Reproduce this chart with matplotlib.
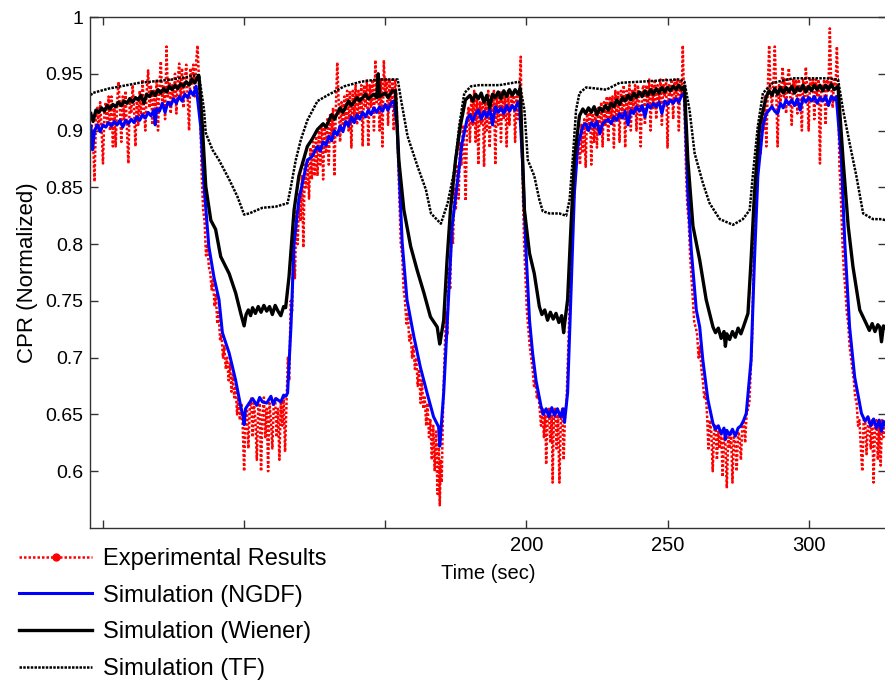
import numpy as np
import matplotlib
matplotlib.use("Agg")
import matplotlib.pyplot as plt
from matplotlib.lines import Line2D

plt.rcParams['font.family'] = ['Liberation Sans', 'DejaVu Sans']

# (time [s], CPR normalized)
experimental = [
    # first high level
    (46, 0.905), (46.5, 0.89), (47, 0.855), (47.5, 0.91), (48, 0.92), (48.5, 0.90), (49, 0.925), (49.5, 0.90),
    (50, 0.871), (50.5, 0.915), (51, 0.925), (51.5, 0.905), (52, 0.93), (52.5, 0.90), (53, 0.93), (53.5, 0.886),
    (54, 0.92), (54.5, 0.886), (55, 0.925), (55.5, 0.943), (56, 0.92), (56.5, 0.89), (57, 0.93), (57.5, 0.91),
    (58, 0.935), (58.5, 0.90), (59, 0.871), (59.5, 0.93), (60, 0.915), (60.5, 0.94), (61, 0.92), (61.5, 0.886),
    (62, 0.93), (62.5, 0.905), (63, 0.935), (63.5, 0.91), (64, 0.945), (64.5, 0.92), (65, 0.90), (65.5, 0.935),
    (66, 0.953), (66.5, 0.92), (67, 0.94), (67.5, 0.905), (68, 0.935), (68.5, 0.915), (69, 0.945), (69.5, 0.90),
    (70, 0.94), (70.5, 0.961), (71, 0.925), (71.5, 0.94), (72, 0.91), (72.5, 0.974), (73, 0.93), (73.5, 0.945),
    (74, 0.915), (74.5, 0.94), (75, 0.925), (75.5, 0.95), (76, 0.915), (76.5, 0.945), (77, 0.959), (77.5, 0.93),
    (78, 0.955), (78.5, 0.92), (79, 0.945), (79.5, 0.958), (80, 0.93), (80.5, 0.90), (81, 0.955), (81.5, 0.94),
    (82, 0.958), (82.5, 0.93), (83, 0.96), (83.5, 0.975), (84, 0.945),
    # first dip
    (84.3, 0.92), (84.7, 0.89), (85, 0.86), (85.5, 0.83), (86, 0.82), (86.5, 0.79), (87, 0.80), (87.5, 0.78),
    (88, 0.775), (88.5, 0.76), (89, 0.77), (89.5, 0.745), (90, 0.755), (90.5, 0.73), (91, 0.74), (91.5, 0.715),
    (92, 0.72), (92.5, 0.70), (93, 0.71), (93.5, 0.69), (94, 0.70), (94.5, 0.68), (95, 0.695), (95.5, 0.67),
    (96, 0.685), (96.5, 0.665), (97, 0.675), (97.5, 0.65), (98, 0.665), (98.5, 0.645), (99, 0.66), (99.5, 0.64),
    (100, 0.60), (100.5, 0.65), (101, 0.655), (101.5, 0.62), (102, 0.655), (102.5, 0.665), (103, 0.63),
    (103.5, 0.66), (104, 0.645), (104.5, 0.61), (105, 0.655), (105.5, 0.66), (106, 0.60), (106.5, 0.65),
    (107, 0.665), (107.5, 0.63), (108, 0.655), (108.5, 0.60), (109, 0.66), (109.5, 0.645), (110, 0.62),
    (110.5, 0.66), (111, 0.665), (111.5, 0.63), (112, 0.655), (112.5, 0.61), (113, 0.66), (113.5, 0.64),
    (114, 0.665), (114.5, 0.617), (115, 0.66),
    # second high level
    (115.5, 0.70), (116, 0.68), (116.5, 0.75), (117, 0.74), (117.5, 0.80), (118, 0.77), (118.5, 0.83),
    (119, 0.80), (119.5, 0.845), (120, 0.82), (120.5, 0.86), (121, 0.797), (121.5, 0.87), (122, 0.85),
    (122.5, 0.875), (123, 0.84), (123.5, 0.885), (124, 0.857), (124.5, 0.89), (125, 0.86), (125.5, 0.895),
    (126, 0.86), (126.5, 0.90), (127, 0.87), (127.5, 0.905), (128, 0.857), (128.5, 0.905), (129, 0.88),
    (129.5, 0.91), (130, 0.87), (130.5, 0.915), (131, 0.89), (131.5, 0.92), (132, 0.86), (132.5, 0.92),
    (133, 0.96), (133.5, 0.925), (134, 0.89), (134.5, 0.925), (135, 0.90), (135.5, 0.93), (136, 0.905),
    (136.5, 0.935), (137, 0.90), (137.5, 0.935), (138, 0.885), (138.5, 0.935), (139, 0.91), (139.5, 0.94),
    (140, 0.905), (140.5, 0.935), (141, 0.91), (141.5, 0.94), (142, 0.886), (142.5, 0.94), (143, 0.92),
    (143.5, 0.945), (144, 0.886), (144.5, 0.94), (145, 0.92), (145.5, 0.945), (146, 0.90), (146.5, 0.962),
    (147, 0.925), (147.5, 0.94), (148, 0.90), (148.5, 0.945), (149, 0.886), (149.5, 0.962), (150, 0.93),
    (150.5, 0.945), (151, 0.905), (151.5, 0.945), (152, 0.92), (152.5, 0.945), (153, 0.90), (153.5, 0.945),
    (154, 0.93),
    # second dip
    (154.5, 0.88), (155, 0.84), (155.5, 0.80), (156, 0.79), (156.5, 0.76), (157, 0.75), (157.5, 0.73),
    (158, 0.74), (158.5, 0.715), (159, 0.72), (159.5, 0.70), (160, 0.71), (160.5, 0.69), (161, 0.70),
    (161.5, 0.675), (162, 0.69), (162.5, 0.66), (163, 0.68), (163.5, 0.655), (164, 0.665), (164.5, 0.64),
    (165, 0.66), (165.5, 0.63), (166, 0.645), (166.5, 0.61), (167, 0.64), (167.5, 0.60), (168, 0.635),
    (168.5, 0.58), (169, 0.625), (169.3, 0.57), (169.7, 0.61), (170, 0.59), (170.5, 0.66),
    # third high level
    (171, 0.70), (171.5, 0.74), (172, 0.72), (172.5, 0.78), (173, 0.76), (173.5, 0.82), (174, 0.80),
    (174.5, 0.85), (175, 0.83), (175.5, 0.87), (176, 0.84), (176.5, 0.89), (177, 0.87), (177.5, 0.905),
    (178, 0.88), (178.5, 0.838), (179, 0.91), (179.5, 0.92), (180, 0.89), (180.5, 0.93), (181, 0.905),
    (181.5, 0.935), (182, 0.89), (182.5, 0.93), (183, 0.87), (183.5, 0.925), (184, 0.905), (184.5, 0.93),
    (185, 0.868), (185.5, 0.925), (186, 0.90), (186.5, 0.935), (187, 0.885), (187.5, 0.93), (188, 0.91),
    (188.5, 0.935), (189, 0.87), (189.5, 0.93), (190, 0.905), (190.5, 0.935), (191, 0.89), (191.5, 0.935),
    (192, 0.91), (192.5, 0.93), (193, 0.886), (193.5, 0.935), (194, 0.905), (194.5, 0.93), (195, 0.92),
    (195.5, 0.935), (196, 0.89), (196.5, 0.93), (197, 0.91), (197.5, 0.93), (198, 0.965), (198.3, 0.90),
    # third dip
    (198.7, 0.85), (199.2, 0.80), (199.7, 0.77), (200.2, 0.74), (200.7, 0.725), (201.2, 0.71), (201.7, 0.70),
    (202.2, 0.69), (202.7, 0.675), (203.2, 0.68), (203.7, 0.665), (204.2, 0.67), (204.7, 0.655), (205.2, 0.64),
    (205.7, 0.655), (206.2, 0.63), (206.7, 0.65), (207, 0.606), (207.5, 0.645), (208, 0.655), (208.5, 0.625),
    (209, 0.65), (209.3, 0.59), (209.7, 0.645), (210.2, 0.655), (210.7, 0.62), (211.2, 0.65), (211.7, 0.59),
    (212.2, 0.645), (212.7, 0.655), (213.2, 0.61), (213.7, 0.65), (214.2, 0.66), (214.6, 0.69),
    # fourth high level
    (215, 0.72), (215.5, 0.76), (216, 0.80), (216.5, 0.83), (217, 0.845), (217.5, 0.87), (218, 0.88),
    (218.5, 0.89), (219, 0.87), (219.5, 0.905), (220, 0.88), (220.5, 0.91), (221, 0.868), (221.5, 0.915),
    (222, 0.90), (222.5, 0.92), (223, 0.87), (223.5, 0.915), (224, 0.89), (224.5, 0.92), (225, 0.885),
    (225.5, 0.92), (226, 0.90), (226.5, 0.925), (227, 0.886), (227.5, 0.925), (228, 0.905), (228.5, 0.93),
    (229, 0.89), (229.5, 0.93), (230, 0.91), (230.5, 0.93), (231, 0.885), (231.5, 0.935), (232, 0.91),
    (232.5, 0.935), (233, 0.89), (233.5, 0.935), (234, 0.915), (234.5, 0.94), (235, 0.885), (235.5, 0.935),
    (236, 0.91), (236.5, 0.94), (237, 0.90), (237.5, 0.935), (238, 0.915), (238.5, 0.94), (239, 0.90),
    (239.5, 0.94), (240, 0.92), (240.5, 0.886), (241, 0.935), (241.5, 0.94), (242, 0.905), (242.5, 0.94),
    (243, 0.92), (243.5, 0.945), (244, 0.90), (244.5, 0.94), (245, 0.92), (245.5, 0.945), (246, 0.91),
    (246.5, 0.94), (247, 0.925), (247.5, 0.945), (248, 0.905), (248.5, 0.94), (249, 0.93), (249.5, 0.945),
    (250, 0.885), (250.5, 0.94), (251, 0.93), (251.5, 0.945), (252, 0.91), (252.5, 0.945), (253, 0.93),
    (253.5, 0.945), (254, 0.90), (254.5, 0.945), (255, 0.93), (255.4, 0.975), (255.8, 0.935),
    # fourth dip
    (256.2, 0.90), (256.6, 0.86), (257, 0.834), (257.5, 0.82), (258, 0.79), (258.5, 0.77), (259, 0.75),
    (259.5, 0.73), (260, 0.727), (260.5, 0.72), (261, 0.70), (261.5, 0.71), (262, 0.69), (262.5, 0.68),
    (263, 0.665), (263.5, 0.67), (264, 0.65), (264.5, 0.62), (265, 0.645), (265.5, 0.635), (266, 0.60),
    (266.5, 0.635), (267, 0.64), (267.5, 0.61), (268, 0.635), (268.5, 0.62), (269, 0.635), (269.5, 0.595),
    (270, 0.63), (270.5, 0.625), (271, 0.585), (271.5, 0.63), (272, 0.62), (272.5, 0.635), (273, 0.59),
    (273.5, 0.63), (274, 0.625), (274.5, 0.60), (275, 0.635), (275.5, 0.63), (276, 0.61), (276.5, 0.64),
    (277, 0.645), (277.5, 0.625), (278, 0.65), (278.5, 0.655), (279, 0.66), (279.5, 0.69),
    # fifth high level
    (280, 0.72), (280.5, 0.78), (281, 0.83), (281.5, 0.85), (282, 0.87), (282.5, 0.89), (283, 0.88),
    (283.5, 0.91), (284, 0.90), (284.5, 0.93), (285, 0.886), (285.5, 0.935), (286, 0.975), (286.5, 0.935),
    (287, 0.92), (287.5, 0.94), (288, 0.974), (288.5, 0.935), (289, 0.886), (289.5, 0.94), (290, 0.925),
    (290.5, 0.945), (290.8, 0.956), (291.2, 0.93), (291.5, 0.945), (292, 0.915), (292.5, 0.945), (293, 0.955),
    (293.5, 0.93), (294, 0.905), (294.5, 0.945), (295, 0.935), (295.5, 0.945), (296, 0.915), (296.5, 0.945),
    (297, 0.935), (297.6, 0.90), (298, 0.945), (298.5, 0.93), (299, 0.956), (299.5, 0.935), (300, 0.90),
    (300.5, 0.945), (301, 0.935), (301.5, 0.945), (302, 0.91), (302.5, 0.945), (303, 0.93), (303.5, 0.945),
    (304, 0.871), (304.5, 0.94), (305, 0.935), (305.5, 0.945), (306, 0.905), (306.5, 0.945), (307, 0.935),
    (307.5, 0.99), (308, 0.94), (308.5, 0.92), (309, 0.945), (309.5, 0.935), (310, 0.974), (310.4, 0.94),
    (310.9, 0.869),
    # last dip
    (311.3, 0.85), (311.7, 0.82), (312, 0.80), (312.5, 0.775), (313, 0.76), (313.5, 0.74), (314, 0.73),
    (314.5, 0.71), (315, 0.70), (315.5, 0.69), (316, 0.68), (316.5, 0.665), (317, 0.66), (317.5, 0.64),
    (318, 0.645), (318.5, 0.62), (319, 0.60), (319.5, 0.645), (320, 0.645), (320.5, 0.615), (321, 0.64),
    (321.5, 0.645), (322, 0.62), (322.5, 0.645), (323, 0.59), (323.5, 0.64), (324, 0.645), (324.5, 0.61),
    (325, 0.64), (325.5, 0.605), (326, 0.645), (326.5, 0.63), (327, 0.64),
]

ngdf = [
    (45.7, 0.904), (46.3, 0.883), (47, 0.900), (48, 0.905), (49, 0.899), (50, 0.905), (51, 0.903), (52, 0.907),
    (53, 0.904), (54, 0.908), (55, 0.905), (56, 0.909), (57, 0.903), (58, 0.909), (59, 0.906), (60, 0.910),
    (61, 0.907), (62, 0.912), (63, 0.909), (64, 0.914), (65, 0.911), (66, 0.916), (67, 0.913), (68, 0.918),
    (68.5, 0.905), (69, 0.919), (70, 0.917), (71, 0.924), (72, 0.916), (73, 0.925), (74, 0.922), (75, 0.928),
    (76, 0.924), (77, 0.930), (78, 0.926), (79, 0.932), (80, 0.929), (81, 0.935), (82, 0.931), (83, 0.939),
    (84.6, 0.904), (85.8, 0.851), (87.5, 0.798), (89.3, 0.771), (91.1, 0.751), (92.3, 0.722), (94.7, 0.704),
    (97, 0.680), (98.8, 0.657), (99.5, 0.650), (100, 0.641), (100.5, 0.655), (101.8, 0.660), (103, 0.664),
    (104.5, 0.658), (105.5, 0.665), (106.5, 0.661), (108, 0.660), (109.5, 0.666), (110.3, 0.659),
    (111.3, 0.664), (113, 0.661), (114, 0.667), (114.8, 0.666), (115.4, 0.669), (116.6, 0.728),
    (117.7, 0.801), (119.4, 0.839), (122.4, 0.874), (124, 0.877), (126, 0.886), (127, 0.882), (128, 0.890),
    (129, 0.887), (130, 0.895), (131, 0.891), (132, 0.900), (133, 0.896), (134, 0.904), (135, 0.899),
    (136, 0.908), (137, 0.904), (138, 0.912), (139, 0.907), (140, 0.914), (141, 0.910), (142, 0.916),
    (143, 0.912), (144, 0.918), (145, 0.914), (146, 0.920), (147, 0.916), (148, 0.921), (149, 0.917),
    (150, 0.923), (151, 0.918), (152, 0.924), (153, 0.926),
    (154.2, 0.904), (156, 0.801), (157.7, 0.751), (160.1, 0.719), (162.4, 0.692), (164.8, 0.669),
    (167.1, 0.648), (168.9, 0.639), (169.3, 0.622), (169.7, 0.635), (170.7, 0.669), (171.9, 0.728),
    (173.7, 0.816), (175.4, 0.851), (177.2, 0.889), (179, 0.910), (180, 0.914), (181, 0.908), (182, 0.915),
    (183, 0.918), (184, 0.910), (185, 0.917), (186, 0.912), (187, 0.919), (188, 0.905), (189, 0.921),
    (190, 0.916), (191, 0.920), (192, 0.915), (193, 0.922), (194, 0.917), (195, 0.922), (196, 0.918),
    (197, 0.925), (197.5, 0.925),
    (198.6, 0.874), (199.9, 0.792), (201.1, 0.733), (202.2, 0.704), (203.4, 0.680), (205.2, 0.657),
    (206, 0.650), (207, 0.655), (208, 0.648), (209, 0.656), (210, 0.649), (211, 0.655), (212, 0.648),
    (213, 0.655), (213.5, 0.643), (214, 0.655), (214.6, 0.669), (215.8, 0.757), (217, 0.845), (218.2, 0.886),
    (220, 0.904), (221, 0.906), (222, 0.900), (223, 0.907), (224, 0.903), (225, 0.908), (226, 0.897),
    (227, 0.906), (228, 0.908), (229, 0.910), (230, 0.906), (231, 0.912), (232, 0.909), (233, 0.915),
    (234, 0.911), (235, 0.917), (236, 0.905), (237, 0.918), (238, 0.915), (239, 0.921), (240, 0.917),
    (241, 0.922), (242, 0.912), (243, 0.923), (244, 0.920), (245, 0.924), (246, 0.921), (247, 0.925),
    (248, 0.915), (249, 0.926), (250, 0.923), (251, 0.927), (252, 0.924), (253, 0.928), (254, 0.925),
    (255, 0.931), (256, 0.933),
    (257.2, 0.845), (258.4, 0.795), (260.2, 0.742), (261.4, 0.727), (262.5, 0.698), (264.3, 0.663),
    (266.1, 0.642), (267, 0.637), (268, 0.640), (269, 0.633), (270, 0.638), (270.5, 0.628), (271, 0.636),
    (272, 0.632), (273, 0.637), (274, 0.631), (275, 0.638), (276, 0.640), (277, 0.645), (277.9, 0.651),
    (279.6, 0.698), (280.8, 0.786), (282, 0.860), (283.8, 0.904), (285, 0.915), (286, 0.918), (287, 0.921),
    (288, 0.917), (289, 0.915), (290, 0.924), (291, 0.920), (292, 0.927), (293, 0.923), (294, 0.927),
    (295, 0.922), (296, 0.928), (297, 0.918), (298, 0.929), (299, 0.925), (300, 0.929), (301, 0.926),
    (302, 0.930), (303, 0.924), (304, 0.929), (305, 0.926), (306, 0.930), (307, 0.922), (308, 0.930),
    (309, 0.927), (309.8, 0.930),
    (311.6, 0.874), (312.8, 0.801), (314.5, 0.727), (316.3, 0.683), (318.7, 0.651), (320, 0.644),
    (321, 0.648), (322, 0.640), (323, 0.646), (324, 0.638), (325, 0.645), (325.8, 0.635), (326.5, 0.644),
    (327.3, 0.640),
]

wiener = [
    (45.7, 0.915), (46.5, 0.908), (47.5, 0.918), (48.5, 0.916), (49.5, 0.920), (50.5, 0.917), (51.5, 0.922),
    (52.5, 0.919), (53.5, 0.923), (54.5, 0.921), (55.5, 0.925), (56.5, 0.922), (57.5, 0.926), (58.5, 0.924),
    (59.5, 0.928), (60.5, 0.925), (61.5, 0.929), (62.5, 0.927), (63.5, 0.931), (64.5, 0.924), (65.5, 0.932),
    (66.5, 0.930), (67.5, 0.934), (68.5, 0.931), (69.5, 0.936), (70.5, 0.933), (71.5, 0.937), (72.5, 0.934),
    (73.5, 0.939), (74.5, 0.936), (75.5, 0.940), (76.5, 0.937), (77.5, 0.941), (78.5, 0.939), (79.5, 0.943),
    (80.5, 0.940), (81.5, 0.945), (82.5, 0.942), (83.5, 0.947), (84, 0.948),
    (85.2, 0.904), (86.4, 0.851), (88.2, 0.821), (89.9, 0.813), (91.7, 0.789), (94.7, 0.774), (97, 0.757),
    (98.8, 0.739), (100, 0.728), (100.7, 0.738), (101.5, 0.742), (102.3, 0.737), (103, 0.744), (104, 0.739),
    (105, 0.745), (106, 0.740), (107, 0.746), (108, 0.741), (109, 0.745), (110, 0.738), (111, 0.746),
    (112, 0.741), (113, 0.737), (114, 0.745), (114.7, 0.744), (115.9, 0.771), (117.7, 0.830), (119.4, 0.860),
    (122.4, 0.886), (124, 0.892), (126, 0.901), (128, 0.906), (129, 0.903), (131, 0.914), (132, 0.910),
    (134, 0.920), (135, 0.916), (137, 0.926), (138, 0.922), (140, 0.929), (141, 0.926), (143, 0.932),
    (144, 0.928), (146, 0.932), (147, 0.929), (147.5, 0.950), (148, 0.930), (150, 0.933), (151, 0.929),
    (152.5, 0.935), (153.6, 0.935),
    (154.8, 0.874), (156.6, 0.830), (159, 0.798), (161.3, 0.777), (163.7, 0.757), (166, 0.736), (168.4, 0.727),
    (169.3, 0.712), (169.6, 0.716), (170.7, 0.733), (171.9, 0.786), (173.1, 0.830), (174.9, 0.874),
    (176.6, 0.904), (178.4, 0.927), (180, 0.931), (181, 0.926), (182, 0.932), (183, 0.928), (184, 0.933),
    (185, 0.925), (186, 0.931), (187, 0.920), (188, 0.932), (189, 0.929), (190, 0.934), (191, 0.928),
    (192, 0.935), (193, 0.930), (194, 0.936), (195, 0.931), (196, 0.936), (197, 0.932), (197.8, 0.937),
    (199.3, 0.830), (201.1, 0.792), (202.8, 0.774), (204.6, 0.745), (205.5, 0.738), (206.5, 0.742),
    (207.5, 0.733), (208.5, 0.740), (209.5, 0.734), (210.5, 0.739), (211.5, 0.731), (212.5, 0.737),
    (213.2, 0.722), (213.5, 0.729), (214.6, 0.751), (215.8, 0.816), (217, 0.874), (218.8, 0.913),
    (220, 0.919), (221, 0.915), (222, 0.920), (223, 0.916), (224, 0.921), (225, 0.914), (226, 0.920),
    (227, 0.917), (228, 0.922), (229, 0.918), (230, 0.924), (231, 0.921), (232, 0.927), (233, 0.923),
    (234, 0.929), (235, 0.926), (236, 0.931), (237, 0.927), (238, 0.933), (239, 0.929), (240, 0.934),
    (241, 0.930), (242, 0.935), (243, 0.931), (244, 0.936), (245, 0.932), (246, 0.937), (247, 0.933),
    (248, 0.938), (249, 0.934), (250, 0.938), (251, 0.935), (252, 0.939), (253, 0.936), (254, 0.940),
    (255, 0.936), (256, 0.939),
    (257.2, 0.874), (259, 0.816), (261.4, 0.786), (263.7, 0.751), (266.1, 0.727), (267, 0.722), (268, 0.726),
    (269, 0.717), (270, 0.723), (270.5, 0.710), (271, 0.721), (272, 0.716), (273, 0.723), (274, 0.718),
    (275, 0.726), (276, 0.721), (277, 0.728), (278.5, 0.739), (279.6, 0.786), (280.8, 0.845), (282.6, 0.904),
    (285, 0.930), (286, 0.935), (287, 0.931), (288, 0.937), (289, 0.932), (290, 0.938), (291, 0.933),
    (292, 0.938), (293, 0.934), (294, 0.939), (295, 0.933), (296, 0.938), (297, 0.935), (298, 0.940),
    (299, 0.934), (300, 0.939), (301, 0.935), (302, 0.940), (303, 0.936), (304, 0.940), (305, 0.935),
    (306, 0.940), (307, 0.936), (308, 0.941), (309, 0.936), (310.4, 0.939),
    (312.2, 0.874), (314, 0.816), (315.7, 0.780), (318.1, 0.742), (320.4, 0.730), (321.5, 0.724),
    (322.5, 0.730), (323.5, 0.723), (324.5, 0.729), (325.2, 0.727), (325.8, 0.714), (326.5, 0.728),
    (327.3, 0.726),
]

tf = [
    (45.7, 0.931), (46.2, 0.933), (52.1, 0.937), (62.8, 0.942), (74.6, 0.945), (84.0, 0.949),
    (85.8, 0.918), (86.4, 0.898), (88.8, 0.883), (91.1, 0.874), (94.7, 0.857), (97.6, 0.842),
    (100, 0.826), (101.8, 0.827), (106.5, 0.832), (111.2, 0.833), (115.4, 0.836), (116.6, 0.851),
    (118.3, 0.874), (120.1, 0.892), (122.4, 0.909), (126, 0.926), (129.5, 0.931), (135.5, 0.939),
    (141.4, 0.943), (147.3, 0.945), (154.4, 0.945), (155.6, 0.927), (157.9, 0.895), (161.5, 0.868),
    (164.4, 0.848), (166.2, 0.827), (169.7, 0.818), (172.1, 0.836), (174.5, 0.865), (176.2, 0.904),
    (178, 0.933), (180.4, 0.939), (183.3, 0.940), (190.4, 0.940), (197.5, 0.943), (199.3, 0.918),
    (200.5, 0.874), (202.8, 0.860), (204.6, 0.839), (205.8, 0.829), (208.2, 0.827), (211.7, 0.827),
    (214.1, 0.825), (215.3, 0.839), (216.4, 0.874), (217.6, 0.918), (218.8, 0.933), (221.2, 0.938),
    (228.3, 0.936), (233, 0.942), (240.1, 0.943), (247.2, 0.944), (254.3, 0.945), (256, 0.943),
    (257.8, 0.918), (259.6, 0.880), (262.5, 0.854), (264.9, 0.836), (268.5, 0.822), (273.2, 0.817),
    (276.7, 0.822), (279.1, 0.830), (280.2, 0.860), (282, 0.904), (283.8, 0.933), (287.3, 0.942),
    (294.4, 0.946), (306.3, 0.946), (310.4, 0.945), (312.2, 0.918), (314.5, 0.889), (316.9, 0.860),
    (319.3, 0.827), (322.8, 0.822), (325.8, 0.822), (327.3, 0.821),
]

labels = ["Experimental Results", "Simulation (NGDF)", "Simulation (Wiener)", "Simulation (TF)"]
ytick_vals = [0.6, 0.65, 0.7, 0.75, 0.8, 0.85, 0.9, 0.95, 1.0]
ytick_text = ["0.6", "0.65", "0.7", "0.75", "0.8", "0.85", "0.9", "0.95", "1"]
xtick_vals = [50, 100, 150, 200, 250, 300]
xtick_text = ["", "", "", "200", "250", "300"]

exp_arr = np.array(experimental)
ngdf_arr = np.array(ngdf)
wie_arr = np.array(wiener)
tf_arr = np.array(tf)

red_style = dict(color='red', ls=(0, (1, 0.8)), lw=1.8)
blue_style = dict(color='blue', lw=2.2)
wie_style = dict(color='black', lw=2.4)
tf_style = dict(color='black', ls=(0, (1, 0.5)), lw=1.8)

fig = plt.figure(figsize=(8.85, 6.84), dpi=100)
ax = fig.add_axes([90 / 885, 1 - 528 / 684, 796 / 885, 511 / 684])

ax.plot(exp_arr[:, 0], exp_arr[:, 1], **red_style)
ax.plot(ngdf_arr[:, 0], ngdf_arr[:, 1], **blue_style)
ax.plot(wie_arr[:, 0], wie_arr[:, 1], **wie_style)
ax.plot(tf_arr[:, 0], tf_arr[:, 1], **tf_style)

ax.set_xlim(45.4, 327.4)
ax.set_ylim(0.55, 1.0)
ax.set_yticks(ytick_vals)
ax.set_yticklabels(ytick_text)
ax.set_xticks(xtick_vals)
ax.set_xticklabels(xtick_text)
ax.tick_params(direction='in', top=True, right=True, length=6, width=1, color='#333333')
ax.tick_params(axis='y', labelsize=14, pad=5)
ax.tick_params(axis='x', labelsize=14.5, pad=6)
for s in ax.spines.values():
    s.set_color('#333333')
    s.set_linewidth(1.0)

ax.set_xlabel("Time (sec)", fontsize=14.5, labelpad=6)
ax.set_ylabel("CPR (Normalized)", fontsize=16, labelpad=5)

handles = [
    Line2D([0, 0.5, 1], [0, 0, 0], marker='o', ms=5, markevery=[1], **red_style),
    Line2D([0, 1], [0, 0], **blue_style),
    Line2D([0, 1], [0, 0], **wie_style),
    Line2D([0, 1], [0, 0], **tf_style),
]
fig.legend(handles, labels, loc='upper left', bbox_to_anchor=(19 / 885, 1 - 548 / 684),
           frameon=False, fontsize=17, borderpad=0, borderaxespad=0,
           handlelength=3.1, handletextpad=0.45, labelspacing=0.62)

fig.savefig("out.png", dpi=100)
